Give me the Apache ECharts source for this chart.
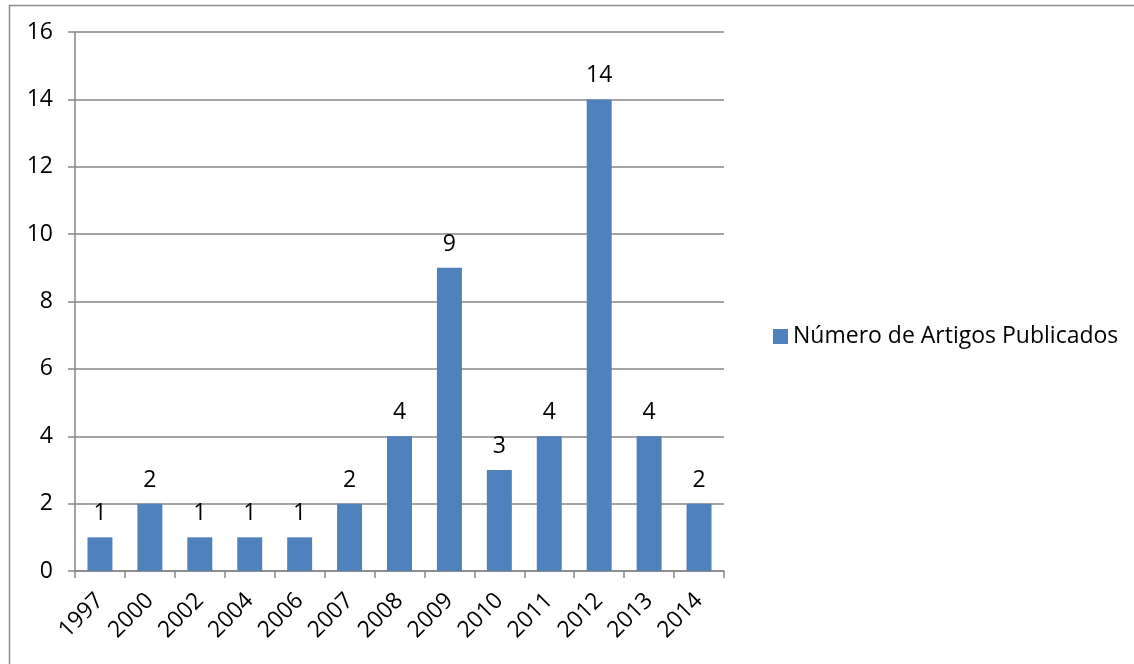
<!DOCTYPE html>
<html>
<head>
<meta charset="utf-8">
<style>
  html, body { margin: 0; padding: 0; background: #fff; }
  #chart { width: 1134px; height: 664px; }
</style>
<script src="https://cdn.jsdelivr.net/npm/echarts@6/dist/echarts.min.js"></script>
</head>
<body>
<div id="chart"></div>
<script>
// Publication years and article counts
const years = ['1997', '2000', '2002', '2004', '2006', '2007', '2008', '2009', '2010', '2011', '2012', '2013', '2014'];
const articles = [1, 2, 1, 1, 1, 2, 4, 9, 3, 4, 14, 4, 2];
const seriesName = 'Número de Artigos Publicados';

const FONT = '"Open Sans", Lato, sans-serif';
const FS = 23;
const GRAY = '#868686';

const chart = echarts.init(document.getElementById('chart'));
chart.setOption({
  animation: false,
  backgroundColor: '#fff',
  textStyle: { fontFamily: FONT, color: '#000' },
  graphic: [{
    type: 'rect',
    left: 7, top: 3,
    shape: { width: 1300, height: 800 },
    style: { fill: 'none', stroke: '#8c8c8c', lineWidth: 1.5 },
    silent: true
  }],
  legend: {
    left: 768, top: 320,
    itemWidth: 15, itemHeight: 15, itemGap: 7,
    icon: 'rect',
    textStyle: { fontFamily: FONT, fontSize: FS, color: '#000' },
    data: [seriesName]
  },
  grid: { left: 75, right: 410, top: 32, bottom: 93, containLabel: false },
  xAxis: {
    type: 'category',
    data: years,
    axisLine: { lineStyle: { color: GRAY, width: 1.5 } },
    axisTick: { show: true, length: 7, alignWithLabel: false, lineStyle: { color: GRAY, width: 1.5 } },
    axisLabel: { rotate: 45, fontSize: FS, color: '#000', fontFamily: FONT, margin: 26, interval: 0 }
  },
  yAxis: {
    type: 'value',
    min: 0, max: 16, interval: 2,
    axisLine: { show: true, lineStyle: { color: GRAY, width: 1.5 } },
    axisTick: { show: true, length: 7, lineStyle: { color: GRAY, width: 1.5 } },
    splitLine: { show: true, lineStyle: { color: GRAY, width: 1.5 } },
    axisLabel: { fontSize: FS, color: '#000', fontFamily: FONT, margin: 22 }
  },
  series: [{
    name: seriesName,
    type: 'bar',
    data: articles,
    barWidth: '50%',
    itemStyle: { color: '#4f81bd' },
    label: {
      show: true, position: 'top', distance: 12,
      fontSize: FS, color: '#000', fontFamily: FONT
    }
  }]
});
</script>
</body>
</html>
